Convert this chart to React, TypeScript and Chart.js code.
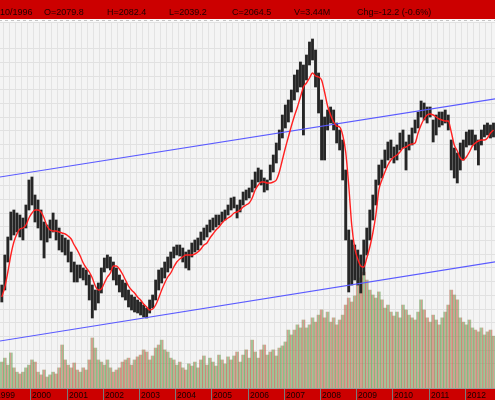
import { useEffect, useRef } from 'react';
import { Chart, registerables } from 'chart.js';

Chart.register(...registerables);

// Monthly periods shown (Mar 1999 .. Oct 2012)
const MONTHS: string[] = [
  '1999-03','1999-04','1999-05','1999-06','1999-07','1999-08','1999-09','1999-10','1999-11','1999-12',
  '2000-01','2000-02','2000-03','2000-04','2000-05','2000-06','2000-07','2000-08','2000-09','2000-10','2000-11','2000-12',
  '2001-01','2001-02','2001-03','2001-04','2001-05','2001-06','2001-07','2001-08','2001-09','2001-10','2001-11','2001-12',
  '2002-01','2002-02','2002-03','2002-04','2002-05','2002-06','2002-07','2002-08','2002-09','2002-10','2002-11','2002-12',
  '2003-01','2003-02','2003-03','2003-04','2003-05','2003-06','2003-07','2003-08','2003-09','2003-10','2003-11','2003-12',
  '2004-01','2004-02','2004-03','2004-04','2004-05','2004-06','2004-07','2004-08','2004-09','2004-10','2004-11','2004-12',
  '2005-01','2005-02','2005-03','2005-04','2005-05','2005-06','2005-07','2005-08','2005-09','2005-10','2005-11','2005-12',
  '2006-01','2006-02','2006-03','2006-04','2006-05','2006-06','2006-07','2006-08','2006-09','2006-10','2006-11','2006-12',
  '2007-01','2007-02','2007-03','2007-04','2007-05','2007-06','2007-07','2007-08','2007-09','2007-10','2007-11','2007-12',
  '2008-01','2008-02','2008-03','2008-04','2008-05','2008-06','2008-07','2008-08','2008-09','2008-10','2008-11','2008-12',
  '2009-01','2009-02','2009-03','2009-04','2009-05','2009-06','2009-07','2009-08','2009-09','2009-10','2009-11','2009-12',
  '2010-01','2010-02','2010-03','2010-04','2010-05','2010-06','2010-07','2010-08','2010-09','2010-10','2010-11','2010-12',
  '2011-01','2011-02','2011-03','2011-04','2011-05','2011-06','2011-07','2011-08','2011-09','2011-10','2011-11','2011-12',
  '2012-01','2012-02','2012-03','2012-04','2012-05','2012-06','2012-07','2012-08','2012-09','2012-10',
];

const HIGH: number[] = [
  925, 1225, 1405, 1655, 1675, 1645, 1625, 1595, 1725, 1975,
  2005, 1825, 1775, 1675, 1555, 1525, 1575, 1645, 1575, 1495, 1425, 1395,
  1375, 1255, 1155, 1125, 1125, 1095, 1075, 1025, 925, 875, 945, 1095,
  1195, 1225, 1205, 1155, 1095, 1025, 975, 945, 875, 825, 805, 775,
  755, 725, 695, 775, 825, 975, 1075, 1095, 1155, 1205, 1255, 1305,
  1325, 1325, 1295, 1255, 1275, 1345, 1375, 1395, 1455, 1495, 1525, 1575,
  1595, 1625, 1625, 1655, 1675, 1725, 1795, 1805, 1725, 1775, 1855, 1875,
  1895, 1975, 2055, 2095, 2075, 1995, 1975, 2125, 2225, 2345, 2475, 2625,
  2725, 2775, 2875, 3025, 3075, 3155, 3125, 3225, 3355, 3385, 3275, 3045,
  2775, 2605, 2675, 2705, 2675, 2545, 2475, 2375, 2075, 1475, 1375, 1325,
  1275, 1225, 1375, 1495, 1675, 1825, 1975, 2125, 2175, 2275, 2355, 2375,
  2305, 2325, 2445, 2475, 2355, 2425, 2495, 2575, 2655, 2765, 2745, 2705,
  2705, 2575, 2625, 2655, 2655, 2675, 2625, 2375, 2295, 2245, 2345, 2375,
  2455, 2475, 2475, 2425, 2375, 2475, 2525, 2545, 2525, 2545,
];

const LOW: number[] = [
  755, 875, 1155, 1375, 1425, 1455, 1405, 1375, 1495, 1675,
  1725, 1555, 1495, 1375, 1195, 1355, 1395, 1455, 1375, 1275, 1255, 1225,
  1155, 1055, 955, 955, 995, 975, 925, 775, 595, 675, 745, 845,
  1055, 1095, 1075, 975, 925, 855, 805, 775, 705, 675, 655, 645,
  625, 605, 595, 645, 695, 775, 875, 945, 995, 1055, 1095, 1195,
  1225, 1215, 1155, 1095, 1075, 1205, 1255, 1275, 1325, 1375, 1405, 1455,
  1475, 1505, 1525, 1555, 1575, 1625, 1675, 1695, 1595, 1655, 1725, 1775,
  1795, 1855, 1895, 1955, 1925, 1855, 1875, 1975, 2055, 2145, 2275, 2395,
  2495, 2555, 2655, 2775, 2855, 2905, 2425, 2975, 3125, 3175, 2905, 2645,
  2175, 2175, 2475, 2545, 2475, 2345, 2275, 1975, 1375, 855, 925, 975,
  925, 845, 1025, 1225, 1375, 1575, 1725, 1925, 1995, 2095, 2175, 2195,
  2145, 2175, 2275, 2295, 2075, 2275, 2325, 2445, 2495, 2605, 2575, 2545,
  2605, 2355, 2425, 2505, 2525, 2545, 2475, 2075, 1995, 1945, 2075, 2175,
  2305, 2325, 2325, 2275, 2125, 2325, 2405, 2425, 2395, 2405,
];

// Moving average (red line)
const MA: number[] = [
  805, 905, 1055, 1225, 1355, 1435, 1485, 1495, 1525, 1595,
  1645, 1675, 1675, 1655, 1595, 1515, 1475, 1465, 1465, 1455, 1445, 1435,
  1415, 1385, 1325, 1275, 1215, 1145, 1095, 1055, 995, 915, 875, 885,
  945, 1005, 1045, 1115, 1115, 1085, 1035, 975, 915, 875, 845, 805,
  775, 735, 705, 675, 685, 725, 795, 875, 945, 1005, 1045, 1105,
  1155, 1185, 1205, 1225, 1225, 1225, 1235, 1255, 1285, 1325, 1345, 1395,
  1435, 1475, 1505, 1545, 1575, 1595, 1615, 1645, 1655, 1675, 1705, 1725,
  1745, 1795, 1875, 1925, 1955, 1955, 1945, 1945, 1955, 1975, 2055, 2175,
  2295, 2405, 2515, 2615, 2705, 2805, 2905, 2945, 2995, 3045, 3015, 3005,
  2975, 2855, 2715, 2625, 2555, 2515, 2505, 2425, 2255, 1925, 1525, 1295,
  1185, 1115, 1105, 1195, 1305, 1445, 1625, 1875, 1975, 2055, 2125, 2175,
  2205, 2225, 2255, 2295, 2305, 2325, 2335, 2345, 2445, 2525, 2585, 2625,
  2635, 2625, 2605, 2585, 2575, 2565, 2565, 2455, 2325, 2265, 2195, 2175,
  2205, 2255, 2315, 2345, 2365, 2375, 2375, 2395, 2445, 2475,
];

// Volume, millions
const VOLUME: number[] = [
  0.85, 0.98, 0.75, 1.15, 0.66, 0.52, 0.46, 0.52, 0.66, 0.75,
  0.92, 0.85, 0.52, 0.43, 0.59, 0.36, 0.43, 0.52, 0.46, 0.66, 1.41, 0.92,
  0.75, 0.66, 0.82, 0.59, 0.52, 0.66, 0.59, 0.92, 1.64, 1.31, 0.92, 0.85,
  0.75, 0.92, 0.66, 0.52, 0.59, 0.66, 0.85, 0.92, 0.98, 0.75, 0.92, 1.02,
  1.08, 1.25, 1.18, 0.92, 1.05, 1.31, 1.41, 1.57, 1.25, 1.18, 0.98, 0.92,
  0.75, 0.85, 0.66, 0.59, 0.79, 0.72, 0.85, 0.66, 0.92, 1.05, 0.75, 0.98,
  0.85, 0.72, 1.08, 0.92, 0.79, 1.02, 0.92, 1.05, 1.18, 0.85, 1.08, 1.25,
  0.98, 1.57, 1.18, 0.98, 1.25, 1.41, 1.08, 1.18, 1.25, 1.05, 1.31, 1.38,
  1.51, 1.90, 1.74, 1.90, 2.07, 1.97, 2.23, 1.97, 2.07, 2.30, 2.16, 2.39,
  2.56, 2.30, 2.49, 2.16, 2.30, 2.07, 2.23, 2.39, 2.72, 2.95, 2.82, 3.02,
  3.38, 3.61, 3.80, 3.54, 3.21, 3.05, 2.95, 3.15, 2.89, 2.62, 2.72, 2.49,
  2.36, 2.49, 2.30, 2.72, 2.56, 2.39, 2.30, 2.23, 2.49, 2.89, 2.56, 2.30,
  2.16, 2.39, 2.23, 2.07, 2.30, 2.49, 2.72, 3.21, 3.05, 2.89, 2.30, 2.16,
  2.07, 2.23, 1.97, 1.90, 1.84, 1.97, 1.74, 1.84, 1.90, 1.70,
];

// Trend channel (blue lines)
const CHANNEL_DATES: string[] = ['1999-01', '2013-01'];
const CHANNEL_UPPER: number[] = [1996, 2795];
const CHANNEL_LOWER: number[] = [356, 1165];

const YEARS: string[] = ['1999','2000','2001','2002','2003','2004','2005','2006','2007','2008','2009','2010','2011','2012'];

const HEADER: string[] = ['10/1996', 'O=2079.8', 'H=2082.4', 'L=2039.2', 'C=2064.5', 'V=3.44M', 'Chg=-12.2 (-0.6%)'];
const HEADER_X = [0, 44, 107, 169, 232, 294, 357];

const monthIndex = (s: string) => {
  const [y, m] = s.split('-').map(Number);
  return (y - 1999) * 12 + (m - 1);
};

const GREEN = 'rgba(110,160,90,0.6)';
const RED = 'rgba(190,104,79,0.6)';

function stripes(cols: string[]): CanvasPattern | string {
  const c = document.createElement('canvas');
  c.width = cols.length;
  c.height = 1;
  const g = c.getContext('2d');
  if (!g) return cols[0];
  cols.forEach((col, i) => {
    g.fillStyle = col;
    g.fillRect(i, 0, 1, 1);
  });
  return g.createPattern(c, 'repeat') || cols[0];
}

const framePlugin = {
  id: 'frame',
  beforeDraw(chart: any) {
    const { ctx, chartArea: a } = chart;
    ctx.save();
    ctx.fillStyle = '#f4f4f4';
    ctx.fillRect(a.left, a.top, a.right - a.left, a.bottom - a.top);
    ctx.restore();
  },
  afterDraw(chart: any) {
    const { ctx, chartArea: a, width, height } = chart;
    const xs = chart.scales.x;
    ctx.save();
    // header bar
    ctx.fillStyle = '#cc0000';
    ctx.fillRect(0, 0, width, 19);
    ctx.fillStyle = '#fafafa';
    ctx.fillRect(0, 19, width, a.top - 19);
    ctx.fillStyle = '#c4c4c4';
    xs.ticks.forEach((t: any) => {
      const px = Math.round(xs.getPixelForValue(t.value));
      ctx.fillRect(px - 1, 20, 3, 1);
    });
    ctx.font = '9px "Liberation Sans", Arial, sans-serif';
    ctx.fillStyle = '#220000';
    ctx.textBaseline = 'alphabetic';
    ctx.textAlign = 'left';
    HEADER.forEach((s, i) => ctx.fillText(s, HEADER_X[i], 15));
    // footer bar
    ctx.fillStyle = '#9a9a9a';
    ctx.fillRect(0, a.bottom, width, 1);
    ctx.fillStyle = '#cc0000';
    ctx.fillRect(0, a.bottom + 1, width, height - a.bottom - 1);
    ctx.font = '8.5px "Liberation Sans", Arial, sans-serif';
    YEARS.forEach((y) => {
      const px = Math.round(xs.getPixelForValue(monthIndex(y + '-01')));
      ctx.fillStyle = '#7a7a7a';
      ctx.fillRect(px, a.bottom + 1, 1, height - a.bottom - 1);
      ctx.fillStyle = '#1a0000';
      ctx.fillText(y, px + 2, 398);
    });
    ctx.restore();
  },
};

export default function App() {
  const ref = useRef<HTMLCanvasElement | null>(null);

  useEffect(() => {
    document.body.style.margin = '0';
    const canvas = ref.current;
    if (!canvas) return;
    const xs = MONTHS.map((m) => monthIndex(m) + 0.5);
    const priceData = xs.map((x, i) => ({ x, y: [LOW[i], HIGH[i]] }));
    const volData = xs.map((x, i) => ({ x, y: VOLUME[i] }));
    const upFill = stripes([GREEN, GREEN, RED, GREEN, GREEN, RED, GREEN, RED]);
    const downFill = stripes([RED, RED, GREEN, RED, RED, GREEN, RED, GREEN]);
    const volColors = xs.map((_, i) => {
      const mid = (HIGH[i] + LOW[i]) / 2;
      const prev = i > 0 ? (HIGH[i - 1] + LOW[i - 1]) / 2 : mid;
      return mid >= prev ? upFill : downFill;
    });
    const maData = xs.map((x, i) => ({ x, y: MA[i] }));
    const chX = CHANNEL_DATES.map(monthIndex);
    const upper = chX.map((x, i) => ({ x, y: CHANNEL_UPPER[i] }));
    const lower = chX.map((x, i) => ({ x, y: CHANNEL_LOWER[i] }));

    const chart = new Chart(canvas, {
      type: 'bar',
      data: {
        datasets: [
          { type: 'line', data: maData, borderColor: '#ff2020', borderWidth: 1.4, pointRadius: 0, cubicInterpolationMode: 'monotone', order: 1 } as any,
          { type: 'line', data: upper, borderColor: '#5a5aff', borderWidth: 1.2, pointRadius: 0, order: 2 } as any,
          { type: 'line', data: lower, borderColor: '#5a5aff', borderWidth: 1.2, pointRadius: 0, order: 2 } as any,
          { type: 'bar', data: priceData, backgroundColor: '#262626', barThickness: 2.2, grouped: false, order: 4 } as any,
          { type: 'bar', data: volData, yAxisID: 'yVol', backgroundColor: volColors, barPercentage: 1, categoryPercentage: 1, grouped: false, order: 5 } as any,
        ],
      },
      options: {
        animation: false,
        responsive: false,
        maintainAspectRatio: false,
        events: [],
        layout: { padding: { top: 22, bottom: 12, left: 0, right: 0 }, autoPadding: false } as any,
        plugins: { legend: { display: false }, tooltip: { enabled: false } },
        scales: {
          x: {
            type: 'linear', min: 1.9, max: 166, offset: false,
            ticks: { display: false, stepSize: 2 },
            grid: { color: '#e3e3e3', drawTicks: false, lineWidth: 1 },
            border: { display: false },
          },
          y: {
            type: 'linear', min: -105, max: 3555,
            ticks: { display: false, stepSize: 137 },
            grid: { color: '#e1e1e1', drawTicks: false, lineWidth: 1 },
            border: { display: false },
          },
          yVol: { type: 'linear', min: 0, max: 12, display: false },
        },
      } as any,
      plugins: [framePlugin],
    });
    return () => chart.destroy();
  }, []);

  return (
    <div style={{ width: 495, height: 400 }}>
      <canvas ref={ref} width={495} height={400} style={{ display: 'block' }} />
    </div>
  );
}
